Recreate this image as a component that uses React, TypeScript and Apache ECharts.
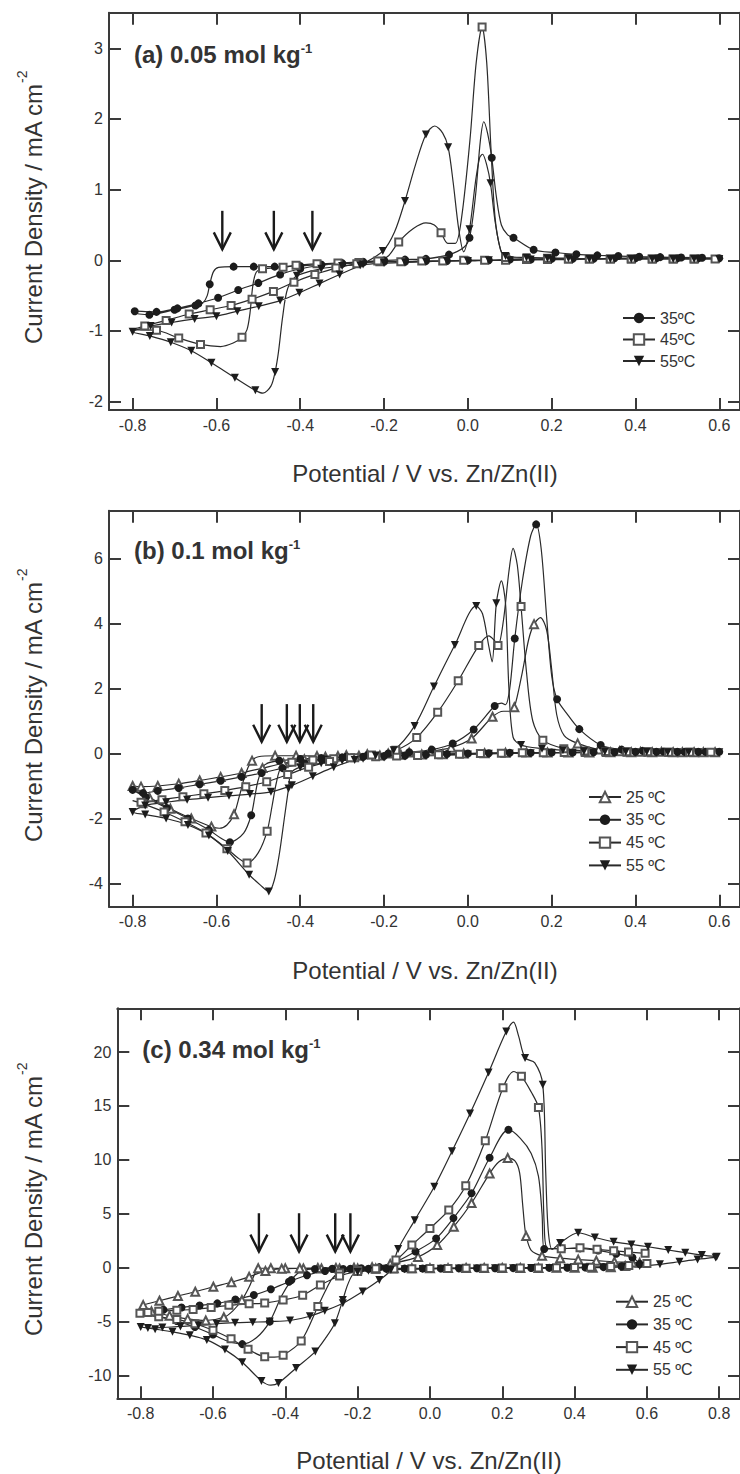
import React, { useEffect, useRef } from 'react';
import * as echarts from 'echarts';

const FONT = '"Liberation Sans", Arial, Helvetica, sans-serif';

// ---------- tick values ----------
const X_TICKS_AB = [-0.8, -0.6, -0.4, -0.2, 0, 0.2, 0.4, 0.6];
const X_TICKS_C = [-0.8, -0.6, -0.4, -0.2, 0, 0.2, 0.4, 0.6, 0.8];
const Y_TICKS_A = [-2, -1, 0, 1, 2, 3];
const Y_TICKS_B = [-4, -2, 0, 2, 4, 6];
const Y_TICKS_C = [-10, -5, 0, 5, 10, 15, 20];

// ---------- texts ----------
const LEGEND_A = ['35ºC', '45ºC', '55ºC'];
const LEGEND_BC = ['25 ºC', '35 ºC', '45 ºC', '55 ºC'];
const PANEL_LABELS = ['(a) 0.05 mol kg', '(b) 0.1 mol kg', '(c) 0.34 mol kg'];
const X_TITLE = 'Potential / V vs. Zn/Zn(II)';
const Y_TITLE = 'Current Density / mA cm';
const Y_TITLE_SUP = '-2';

// ---------- arrows: [potential, top current, tip current] ----------
const ARROWS_A = [[-0.586, 0.7, 0.155], [-0.463, 0.7, 0.155], [-0.371, 0.7, 0.155]];
const ARROWS_B = [[-0.492, 1.52, 0.36], [-0.432, 1.52, 0.36], [-0.401, 1.52, 0.36], [-0.369, 1.52, 0.36]];
const ARROWS_C = [[-0.473, 5.05, 1.49], [-0.362, 5.05, 1.49], [-0.262, 5.05, 1.49], [-0.22, 5.05, 1.49]];

// ---------- CV curves: [E, j] (a third value 0 = point without marker) ----------
const A35 = [
  [0.6, 0.03], [0.55, 0.03], [0.5, 0.03], [0.45, 0.03], [0.4, 0.03], [0.35, 0.03], [0.3, 0.02], [0.25, 0.02],
  [0.2, 0.02], [0.15, 0.01], [0.1, 0.01], [0.05, 0.0], [0.0, 0.0], [-0.05, -0.01], [-0.1, -0.01], [-0.15, -0.02],
  [-0.2, -0.02], [-0.25, -0.03], [-0.3, -0.05], [-0.35, -0.06], [-0.4, -0.08], [-0.461, -0.09], [-0.511, -0.09],
  [-0.559, -0.09], [-0.595, -0.1, 0], [-0.607, -0.16, 0], [-0.616, -0.34], [-0.622, -0.5, 0], [-0.632, -0.6, 0],
  [-0.65, -0.64], [-0.7, -0.7], [-0.76, -0.77], [-0.8, -0.74, 0],
  [-0.795, -0.72], [-0.743, -0.73], [-0.693, -0.68], [-0.643, -0.61], [-0.596, -0.53], [-0.548, -0.42],
  [-0.5, -0.32], [-0.448, -0.2], [-0.4, -0.12], [-0.35, -0.07], [-0.3, -0.04], [-0.25, -0.02], [-0.2, 0.0],
  [-0.15, 0.01], [-0.1, 0.02], [-0.045, 0.08], [-0.01, 0.18, 0], [0.004, 0.32], [0.018, 0.9, 0], [0.03, 1.7, 0],
  [0.038, 1.96, 0], [0.047, 1.8, 0], [0.057, 1.45], [0.068, 0.9, 0], [0.08, 0.5, 0], [0.095, 0.36, 0],
  [0.109, 0.32], [0.157, 0.15], [0.209, 0.11], [0.259, 0.085], [0.309, 0.07], [0.359, 0.06], [0.409, 0.05],
  [0.459, 0.045], [0.509, 0.04], [0.559, 0.035], [0.6, 0.03, 0],
];
const A45 = [
  [0.59, 0.02], [0.54, 0.02], [0.49, 0.02], [0.44, 0.02], [0.39, 0.02], [0.34, 0.02], [0.29, 0.02], [0.24, 0.02],
  [0.19, 0.01], [0.14, 0.01], [0.09, 0.0], [0.04, 0.0], [-0.01, 0.0], [-0.06, -0.01], [-0.11, -0.01], [-0.16, -0.02],
  [-0.21, -0.02], [-0.26, -0.03], [-0.31, -0.04], [-0.36, -0.05], [-0.41, -0.07], [-0.441, -0.1], [-0.49, -0.12],
  [-0.505, -0.17, 0], [-0.513, -0.35, 0], [-0.52, -0.75, 0], [-0.527, -0.98, 0], [-0.539, -1.09], [-0.56, -1.17, 0],
  [-0.59, -1.22, 0], [-0.638, -1.19], [-0.69, -1.1], [-0.743, -0.99], [-0.8, -0.98, 0],
  [-0.771, -0.93], [-0.72, -0.85], [-0.665, -0.76], [-0.615, -0.7], [-0.565, -0.64], [-0.515, -0.55],
  [-0.464, -0.44], [-0.415, -0.31], [-0.365, -0.2], [-0.315, -0.11], [-0.265, -0.05], [-0.215, -0.01],
  [-0.19, 0.06, 0], [-0.165, 0.26], [-0.13, 0.45, 0], [-0.1, 0.53, 0], [-0.08, 0.5, 0], [-0.064, 0.39],
  [-0.048, 0.24, 0], [-0.03, 0.24, 0], [-0.015, 0.6, 0], [0.005, 1.7, 0], [0.02, 2.8, 0], [0.034, 3.3],
  [0.045, 2.8, 0], [0.055, 1.6, 0], [0.065, 0.6, 0], [0.078, 0.15, 0], [0.09, 0.04], [0.14, 0.03], [0.19, 0.03],
  [0.24, 0.02], [0.29, 0.02], [0.34, 0.02], [0.39, 0.02], [0.44, 0.02], [0.49, 0.02], [0.54, 0.02], [0.59, 0.02, 0],
];
const A55 = [
  [0.6, 0.02], [0.55, 0.02], [0.5, 0.02], [0.45, 0.02], [0.4, 0.02], [0.35, 0.02], [0.3, 0.02], [0.25, 0.01],
  [0.2, 0.01], [0.15, 0.01], [0.1, 0.0], [0.05, 0.0], [0.0, -0.01], [-0.05, -0.01], [-0.1, -0.02], [-0.15, -0.03],
  [-0.2, -0.04], [-0.25, -0.06], [-0.3, -0.08], [-0.35, -0.12], [-0.408, -0.22], [-0.43, -0.4, 0], [-0.442, -0.8, 0],
  [-0.452, -1.3, 0], [-0.46, -1.58], [-0.47, -1.78, 0], [-0.489, -1.88, 0], [-0.507, -1.84], [-0.556, -1.66],
  [-0.612, -1.45], [-0.66, -1.28], [-0.709, -1.16], [-0.759, -1.07], [-0.8, -1.01],
  [-0.757, -0.93], [-0.707, -0.88], [-0.652, -0.83], [-0.6, -0.79], [-0.55, -0.72], [-0.499, -0.65],
  [-0.448, -0.57], [-0.402, -0.46], [-0.354, -0.33], [-0.306, -0.2], [-0.257, -0.07], [-0.203, 0.13],
  [-0.175, 0.4, 0], [-0.15, 0.84], [-0.125, 1.35, 0], [-0.1, 1.78], [-0.079, 1.9, 0], [-0.06, 1.8, 0],
  [-0.047, 1.6], [-0.035, 1.1, 0], [-0.022, 0.45, 0], [-0.01, 0.12, 0], [0.004, 0.44], [0.018, 1.1, 0],
  [0.028, 1.45, 0], [0.035, 1.5, 0], [0.045, 1.35, 0], [0.054, 1.09], [0.065, 0.55, 0], [0.078, 0.15, 0],
  [0.09, 0.06], [0.14, 0.04], [0.19, 0.03], [0.24, 0.03], [0.29, 0.02], [0.34, 0.02], [0.39, 0.02], [0.44, 0.02],
  [0.49, 0.02], [0.54, 0.02], [0.6, 0.02, 0],
];

const B25 = [
  [0.59, 0.04], [0.54, 0.04], [0.49, 0.04], [0.44, 0.04], [0.39, 0.04], [0.34, 0.04], [0.29, 0.03], [0.24, 0.03],
  [0.19, 0.03], [0.14, 0.03], [0.09, 0.02], [0.04, 0.01], [-0.01, 0.0], [-0.06, -0.02], [-0.11, -0.03],
  [-0.16, -0.04], [-0.21, -0.06], [-0.26, -0.07], [-0.31, -0.08], [-0.36, -0.08], [-0.41, -0.07], [-0.46, -0.07],
  [-0.5, -0.1, 0], [-0.515, -0.22], [-0.53, -0.6, 0], [-0.545, -1.3, 0], [-0.558, -1.87], [-0.575, -2.2, 0],
  [-0.593, -2.3, 0], [-0.612, -2.25], [-0.66, -2.0], [-0.71, -1.7], [-0.76, -1.35], [-0.8, -1.0],
  [-0.78, -1.02], [-0.74, -1.0], [-0.69, -0.93], [-0.64, -0.83], [-0.59, -0.72], [-0.54, -0.6], [-0.49, -0.45],
  [-0.44, -0.3], [-0.39, -0.18], [-0.34, -0.1], [-0.29, -0.05], [-0.24, -0.02], [-0.19, 0.0], [-0.14, 0.03],
  [-0.09, 0.07], [-0.04, 0.18], [0.009, 0.46], [0.059, 1.13], [0.085, 1.3, 0], [0.1, 1.3, 0], [0.111, 1.42],
  [0.13, 2.5, 0], [0.145, 3.5, 0], [0.158, 3.98], [0.173, 4.18, 0], [0.188, 3.8, 0], [0.2, 2.6, 0],
  [0.212, 1.2, 0], [0.23, 0.55, 0], [0.262, 0.31], [0.312, 0.12], [0.362, 0.07], [0.412, 0.05], [0.462, 0.05],
  [0.512, 0.04], [0.562, 0.04], [0.59, 0.04, 0],
];
const B35 = [
  [0.6, 0.05], [0.55, 0.05], [0.5, 0.05], [0.45, 0.05], [0.4, 0.05], [0.35, 0.04], [0.3, 0.04], [0.25, 0.03],
  [0.2, 0.03], [0.15, 0.02], [0.1, 0.02], [0.05, 0.01], [0.0, 0.0], [-0.05, -0.02], [-0.1, -0.04], [-0.15, -0.06],
  [-0.2, -0.08], [-0.25, -0.1], [-0.3, -0.12], [-0.35, -0.14], [-0.4, -0.17], [-0.45, -0.22], [-0.485, -0.35, 0],
  [-0.5, -0.8, 0], [-0.508, -1.3, 0], [-0.517, -1.9], [-0.535, -2.45, 0], [-0.568, -2.73], [-0.59, -2.6, 0],
  [-0.618, -2.35], [-0.668, -2.0], [-0.718, -1.68], [-0.768, -1.35], [-0.8, -1.12],
  [-0.775, -1.22], [-0.74, -1.15], [-0.69, -1.06], [-0.64, -0.95], [-0.59, -0.84], [-0.54, -0.72],
  [-0.492, -0.6], [-0.442, -0.45], [-0.39, -0.3], [-0.34, -0.18], [-0.29, -0.1], [-0.24, -0.05], [-0.19, 0.0],
  [-0.14, 0.04], [-0.086, 0.12], [-0.036, 0.31], [0.014, 0.74], [0.064, 1.46], [0.08, 1.55, 0], [0.09, 1.5, 0],
  [0.1, 2.0, 0], [0.112, 3.54], [0.13, 5.3, 0], [0.15, 6.7, 0], [0.163, 7.05], [0.175, 6.3, 0], [0.188, 4.2, 0],
  [0.2, 2.4, 0], [0.213, 1.67], [0.235, 1.25, 0], [0.266, 0.75], [0.317, 0.26], [0.367, 0.12], [0.417, 0.08],
  [0.467, 0.06], [0.517, 0.05], [0.567, 0.05], [0.6, 0.05, 0],
];
const B45 = [
  [0.58, 0.04], [0.53, 0.04], [0.48, 0.04], [0.43, 0.04], [0.38, 0.04], [0.33, 0.03], [0.28, 0.03], [0.23, 0.03],
  [0.18, 0.02], [0.13, 0.02], [0.08, 0.01], [0.03, 0.0], [-0.02, -0.02], [-0.07, -0.04], [-0.12, -0.06],
  [-0.17, -0.08], [-0.22, -0.1], [-0.27, -0.13], [-0.32, -0.16], [-0.37, -0.2], [-0.42, -0.27], [-0.445, -0.4, 0],
  [-0.457, -0.9, 0], [-0.467, -1.6, 0], [-0.479, -2.39], [-0.5, -3.05, 0], [-0.527, -3.37], [-0.55, -3.2, 0],
  [-0.575, -2.93], [-0.625, -2.45], [-0.675, -2.1], [-0.725, -1.8], [-0.775, -1.55], [-0.8, -1.45, 0],
  [-0.78, -1.5], [-0.73, -1.42], [-0.68, -1.33], [-0.63, -1.24], [-0.58, -1.14], [-0.53, -1.02], [-0.48, -0.87],
  [-0.43, -0.65], [-0.38, -0.42], [-0.33, -0.25], [-0.28, -0.13], [-0.23, -0.05], [-0.172, 0.1], [-0.122, 0.49],
  [-0.072, 1.27], [-0.023, 2.24], [0.026, 3.32], [0.05, 3.62, 0], [0.062, 3.5, 0], [0.072, 3.32], [0.085, 4.1, 0],
  [0.098, 5.6, 0], [0.108, 6.31, 0], [0.118, 5.8, 0], [0.127, 4.52], [0.14, 2.5, 0], [0.155, 1.0, 0],
  [0.179, 0.41], [0.229, 0.15], [0.279, 0.08], [0.329, 0.06], [0.379, 0.05], [0.429, 0.05], [0.479, 0.04],
  [0.529, 0.04], [0.58, 0.04, 0],
];
const B55 = [
  [0.6, 0.04], [0.55, 0.04], [0.5, 0.04], [0.45, 0.04], [0.4, 0.04], [0.35, 0.03], [0.3, 0.03], [0.25, 0.02],
  [0.2, 0.02], [0.15, 0.01], [0.1, 0.0], [0.05, -0.01], [0.0, -0.03], [-0.05, -0.05], [-0.1, -0.07], [-0.15, -0.09],
  [-0.2, -0.12], [-0.25, -0.16], [-0.3, -0.22], [-0.35, -0.3], [-0.4, -0.42], [-0.422, -0.6, 0], [-0.428, -1.08],
  [-0.438, -2.0, 0], [-0.45, -3.1, 0], [-0.462, -3.9, 0], [-0.475, -4.25], [-0.495, -4.05, 0], [-0.522, -3.73],
  [-0.573, -3.0], [-0.618, -2.52], [-0.668, -2.2], [-0.72, -2.0], [-0.77, -1.88], [-0.8, -1.8],
  [-0.77, -1.6], [-0.72, -1.5], [-0.67, -1.42], [-0.62, -1.36], [-0.57, -1.3], [-0.52, -1.25], [-0.47, -1.18],
  [-0.42, -0.98], [-0.37, -0.7], [-0.32, -0.42], [-0.27, -0.2], [-0.22, -0.06], [-0.177, 0.1], [-0.127, 0.85],
  [-0.081, 2.06], [-0.031, 3.34], [0.02, 4.54], [0.035, 4.3, 0], [0.05, 3.3, 0], [0.058, 2.82, 0], [0.068, 4.62],
  [0.08, 5.31, 0], [0.09, 4.6, 0], [0.098, 2.0, 0], [0.108, 0.5, 0], [0.127, 0.26], [0.177, 0.15], [0.227, 0.1],
  [0.277, 0.07], [0.327, 0.06], [0.377, 0.05], [0.427, 0.05], [0.477, 0.04], [0.527, 0.04], [0.6, 0.04, 0],
];

const C25 = [
  [0.58, 0.45], [0.54, 0.15], [0.5, 0.05], [0.45, 0.0], [0.4, 0.0], [0.35, 0.0], [0.3, -0.02], [0.25, -0.02],
  [0.2, -0.03], [0.15, -0.03], [0.1, -0.03], [0.05, -0.04], [0.0, -0.05], [-0.05, -0.05], [-0.1, -0.06],
  [-0.15, -0.07], [-0.2, -0.08], [-0.25, -0.08], [-0.3, -0.08], [-0.35, -0.07], [-0.4, -0.06], [-0.44, -0.05],
  [-0.475, -0.05], [-0.485, -0.6, 0], [-0.5, -1.8, 0], [-0.52, -3.0], [-0.545, -4.0, 0], [-0.57, -4.6],
  [-0.62, -4.9], [-0.67, -4.75], [-0.72, -4.45], [-0.77, -4.05], [-0.8, -3.8, 0],
  [-0.793, -3.47], [-0.748, -3.07], [-0.697, -2.63], [-0.649, -2.23], [-0.599, -1.77], [-0.549, -1.35],
  [-0.5, -0.85], [-0.455, -0.3], [-0.41, -0.1], [-0.36, -0.05], [-0.31, -0.03], [-0.26, -0.02], [-0.21, 0.0],
  [-0.16, 0.05], [-0.11, 0.35], [-0.033, 1.0], [0.02, 2.1], [0.066, 3.8], [0.115, 6.0], [0.165, 8.73],
  [0.19, 9.8, 0], [0.215, 10.17], [0.235, 9.9, 0], [0.248, 8.8, 0], [0.256, 6.0, 0], [0.262, 3.8, 0],
  [0.266, 2.93], [0.28, 1.6, 0], [0.31, 1.1], [0.36, 0.88], [0.41, 0.75], [0.46, 0.65], [0.51, 0.55],
  [0.56, 0.48], [0.58, 0.45, 0],
];
const C35 = [
  [0.58, 0.35], [0.53, 0.12], [0.48, 0.05], [0.43, 0.02], [0.38, 0.0], [0.33, -0.02], [0.28, -0.03],
  [0.23, -0.04], [0.18, -0.05], [0.13, -0.05], [0.08, -0.06], [0.03, -0.07], [-0.02, -0.08], [-0.07, -0.09],
  [-0.12, -0.1], [-0.17, -0.1], [-0.22, -0.1], [-0.27, -0.1], [-0.318, -0.12], [-0.35, -0.2, 0], [-0.365, -0.5, 0],
  [-0.383, -1.15], [-0.41, -2.6, 0], [-0.443, -5.0], [-0.48, -6.5, 0], [-0.519, -7.09], [-0.56, -6.8, 0],
  [-0.6, -6.2], [-0.65, -5.5], [-0.7, -4.95], [-0.75, -4.55], [-0.8, -4.2],
  [-0.78, -4.1], [-0.737, -3.9], [-0.687, -3.69], [-0.637, -3.5], [-0.588, -3.31], [-0.538, -2.95],
  [-0.487, -2.54], [-0.44, -2.0], [-0.39, -1.3], [-0.34, -0.7], [-0.29, -0.3], [-0.24, -0.12], [-0.19, -0.05],
  [-0.14, 0.05], [-0.094, 0.55], [-0.04, 1.5], [0.017, 2.7], [0.065, 4.6], [0.115, 6.9], [0.165, 10.2],
  [0.217, 12.8], [0.25, 12.0, 0], [0.28, 10.6, 0], [0.3, 8.5, 0], [0.31, 5.0, 0], [0.316, 1.73], [0.365, 1.78],
  [0.415, 1.79], [0.465, 1.6], [0.515, 1.3], [0.56, 0.95], [0.58, 0.35, 0],
];
const C45 = [
  [0.6, 0.4], [0.55, 0.2], [0.5, 0.1], [0.444, 0.05], [0.4, 0.02], [0.35, 0.0], [0.3, -0.02], [0.25, -0.03],
  [0.2, -0.04], [0.15, -0.05], [0.1, -0.06], [0.05, -0.07], [0.0, -0.08], [-0.05, -0.1], [-0.1, -0.12],
  [-0.15, -0.15], [-0.2, -0.25], [-0.25, -0.5], [-0.27, -1.0, 0], [-0.29, -2.2, 0], [-0.31, -3.6], [-0.356, -6.8],
  [-0.406, -8.12], [-0.43, -8.3, 0], [-0.457, -8.27], [-0.503, -7.56], [-0.55, -6.6], [-0.6, -5.8], [-0.65, -5.2],
  [-0.7, -4.8], [-0.75, -4.55], [-0.802, -4.23],
  [-0.78, -4.15], [-0.75, -4.05], [-0.7, -3.95], [-0.655, -3.88], [-0.605, -3.7], [-0.556, -3.49], [-0.5, -3.35],
  [-0.457, -3.28], [-0.406, -3.0], [-0.352, -2.56], [-0.303, -1.61], [-0.25, -0.77], [-0.2, -0.35], [-0.15, -0.1],
  [-0.094, 0.71], [-0.05, 2.1], [0.0, 3.64], [0.052, 5.34], [0.099, 7.6], [0.153, 11.78], [0.202, 16.7],
  [0.232, 18.2, 0], [0.253, 17.75], [0.28, 16.3, 0], [0.3, 14.87], [0.31, 11.0, 0], [0.316, 4.0, 0],
  [0.325, 1.8, 0], [0.363, 1.76], [0.415, 1.85], [0.462, 1.7], [0.508, 1.57], [0.549, 1.45], [0.595, 1.33],
];
const C55 = [
  [0.79, 0.95], [0.74, 0.77], [0.69, 0.55], [0.636, 0.31], [0.58, 0.15], [0.531, 0.09], [0.48, 0.05], [0.43, 0.02],
  [0.38, 0.0], [0.33, -0.02], [0.28, -0.04], [0.23, -0.05], [0.18, -0.06], [0.13, -0.07], [0.08, -0.08],
  [0.03, -0.1], [-0.02, -0.12], [-0.07, -0.15], [-0.12, -0.2], [-0.17, -0.28], [-0.2, -0.4], [-0.215, -0.7, 0],
  [-0.23, -1.8, 0], [-0.241, -3.0], [-0.263, -5.15], [-0.29, -6.6, 0], [-0.317, -7.78], [-0.37, -9.3],
  [-0.419, -10.7], [-0.44, -10.9, 0], [-0.466, -10.5], [-0.519, -8.77], [-0.567, -7.6], [-0.617, -6.7],
  [-0.664, -6.26], [-0.712, -5.95], [-0.76, -5.7], [-0.8, -5.5],
  [-0.78, -5.6], [-0.74, -5.55], [-0.69, -5.45], [-0.64, -5.35], [-0.59, -5.2], [-0.539, -5.1], [-0.49, -5.05],
  [-0.443, -5.0], [-0.387, -4.9], [-0.332, -4.5], [-0.291, -4.0], [-0.241, -3.3], [-0.186, -2.2], [-0.14, -1.15],
  [-0.108, -0.2], [-0.088, 1.73], [-0.042, 4.41], [0.012, 7.5], [0.061, 10.8], [0.111, 14.3], [0.162, 18.1],
  [0.211, 21.9], [0.231, 22.77, 0], [0.245, 21.5, 0], [0.263, 19.46], [0.29, 19.0, 0], [0.312, 16.98],
  [0.32, 9.0, 0], [0.327, 3.5, 0], [0.338, 1.7, 0], [0.36, 2.3], [0.41, 3.24], [0.456, 2.8], [0.508, 2.4],
  [0.557, 2.16], [0.603, 1.94], [0.659, 1.64], [0.706, 1.39], [0.752, 1.17], [0.793, 1.02],
];

// ---------- layout (pixels) ----------
const PANELS = [
  { left: 109, top: 12.7, width: 632.5, height: 397.3, xmin: -0.8564, xmax: 0.6495, ymin: -2.118, ymax: 3.503,
    xticks: X_TICKS_AB, yticks: Y_TICKS_A, labelY: 54, titleY: 473, titleX: 425, yTitleEnd: 84 },
  { left: 109, top: 510.7, width: 632.5, height: 396, xmin: -0.8564, xmax: 0.6495, ymin: -4.714, ymax: 7.471,
    xticks: X_TICKS_AB, yticks: Y_TICKS_B, labelY: 550, titleY: 970, titleX: 425, yTitleEnd: 582 },
  { left: 117.3, top: 1008.3, width: 624.2, height: 390, xmin: -0.8646, xmax: 0.8574, ymin: -12.115, ymax: 24.06,
    xticks: X_TICKS_C, yticks: Y_TICKS_C, labelY: 1049, titleY: 1460, titleX: 429, yTitleEnd: 1076 },
];

const STYLES: Record<string, any> = {
  '25': { symbol: 'emptyTriangle', rotate: 0, size: 8, color: '#555', border: 1.1 },
  '35': { symbol: 'circle', rotate: 0, size: 8, color: '#1c1c1c', border: 0 },
  '45': { symbol: 'emptyRect', rotate: 0, size: 7, color: '#555', border: 1.1 },
  '55': { symbol: 'triangle', rotate: 180, size: 8, color: '#1c1c1c', border: 0 },
};

const AXIS_COLOR = '#3a3a3a';
const TEXT_COLOR = '#333';

function toData(pts: number[][]) {
  return pts.map((p) =>
    p.length > 2 && p[2] === 0 ? { value: [p[0], p[1]], symbol: 'none' } : { value: [p[0], p[1]] }
  );
}

function curve(name: string, key: string, pts: number[][], panel: number) {
  const s = STYLES[key];
  return {
    type: 'line',
    name,
    xAxisIndex: panel * 2,
    yAxisIndex: panel * 2,
    data: toData(pts),
    smooth: 0.3,
    symbol: s.symbol,
    symbolSize: s.size,
    symbolRotate: s.rotate,
    showSymbol: true,
    showAllSymbol: true,
    silent: true,
    lineStyle: { color: '#2a2a2a', width: 1.2 },
    itemStyle: { color: s.color, borderWidth: s.border, borderColor: s.color },
    emphasis: { disabled: true },
    z: 3,
  };
}

function arrows(data: number[][], panel: number) {
  return {
    type: 'custom',
    xAxisIndex: panel * 2,
    yAxisIndex: panel * 2,
    data,
    encode: { x: 0, y: [1, 2] },
    silent: true,
    z: 4,
    renderItem: (_params: any, api: any) => {
      const top = api.coord([api.value(0), api.value(1)]);
      const tip = api.coord([api.value(0), api.value(2)]);
      return {
        type: 'group',
        children: [
          { type: 'line', shape: { x1: top[0], y1: top[1], x2: tip[0], y2: tip[1] },
            style: { stroke: '#1a1a1a', lineWidth: 2.4 } },
          { type: 'polyline', shape: { points: [[tip[0] - 8.5, tip[1] - 17], [tip[0], tip[1]], [tip[0] + 8.5, tip[1] - 17]] },
            style: { stroke: '#1a1a1a', lineWidth: 2.4, fill: null } },
        ],
      };
    },
  };
}

function axisPair(panel: number, horizontal: boolean) {
  const P = PANELS[panel];
  const min = horizontal ? P.xmin : P.ymin;
  const max = horizontal ? P.xmax : P.ymax;
  const ticks = horizontal ? P.xticks : P.yticks;
  const base = {
    type: 'value',
    gridIndex: panel,
    min,
    max,
    splitLine: { show: false },
    axisLine: { show: true, onZero: false, lineStyle: { color: AXIS_COLOR, width: 2 } },
    axisTick: { show: true, inside: true, length: 12, lineStyle: { color: AXIS_COLOR, width: 2 }, customValues: ticks },
  };
  const main = {
    ...base,
    position: horizontal ? 'bottom' : 'left',
    axisLabel: {
      show: true,
      customValues: ticks,
      margin: horizontal ? 7 : 6,
      fontSize: 16,
      color: TEXT_COLOR,
      fontFamily: FONT,
      formatter: (v: number) => (horizontal ? v.toFixed(1) : String(Math.round(v))),
    },
  };
  const second = {
    ...base,
    position: horizontal ? 'top' : 'right',
    axisLabel: { show: false },
  };
  return [main, second];
}

function legend(names: string[], left: number, top: number, gap: number) {
  return {
    data: names,
    orient: 'vertical',
    left,
    top,
    padding: 0,
    itemWidth: 32,
    itemHeight: 13,
    itemGap: gap,
    selectedMode: false,
    textStyle: { fontSize: 16, color: TEXT_COLOR, fontFamily: FONT },
  };
}

function buildOption() {
  const xAxis: any[] = [];
  const yAxis: any[] = [];
  for (let i = 0; i < 3; i++) {
    xAxis.push(...axisPair(i, true));
    yAxis.push(...axisPair(i, false));
  }
  const grid = PANELS.map((p) => ({ left: p.left, top: p.top, width: p.width, height: p.height }));

  const series: any[] = [
    curve(LEGEND_A[0], '35', A35, 0),
    curve(LEGEND_A[1], '45', A45, 0),
    curve(LEGEND_A[2], '55', A55, 0),
    arrows(ARROWS_A, 0),
    curve(LEGEND_BC[0], '25', B25, 1),
    curve(LEGEND_BC[1], '35', B35, 1),
    curve(LEGEND_BC[2], '45', B45, 1),
    curve(LEGEND_BC[3], '55', B55, 1),
    arrows(ARROWS_B, 1),
    curve(LEGEND_BC[0], '25', C25, 2),
    curve(LEGEND_BC[1], '35', C35, 2),
    curve(LEGEND_BC[2], '45', C45, 2),
    curve(LEGEND_BC[3], '55', C55, 2),
    arrows(ARROWS_C, 2),
  ];

  const graphic: any[] = [];
  PANELS.forEach((p, i) => {
    graphic.push({
      type: 'text',
      x: p.left + 25,
      y: p.labelY,
      silent: true,
      style: {
        text: `{m|${PANEL_LABELS[i]}}{s|-1}`,
        align: 'left',
        verticalAlign: 'middle',
        textAlign: 'left',
        textVerticalAlign: 'middle',
        rich: {
          m: { fontSize: 24, fontWeight: 'bold', lineHeight: 24, fontFamily: FONT, fill: TEXT_COLOR },
          s: { fontSize: 13, fontWeight: 'bold', lineHeight: 12, verticalAlign: 'top', fontFamily: FONT, fill: TEXT_COLOR },
        },
      },
    });
    graphic.push({
      type: 'text',
      x: p.titleX,
      y: p.titleY,
      silent: true,
      style: {
        text: X_TITLE,
        fontSize: 24,
        fontFamily: FONT,
        fill: TEXT_COLOR,
        align: 'center',
        verticalAlign: 'middle',
        textAlign: 'center',
        textVerticalAlign: 'middle',
      },
    });
    // rotated y title: main text ends at yTitleEnd, superscript continues above it
    graphic.push({
      type: 'text',
      x: 33,
      y: p.yTitleEnd,
      rotation: Math.PI / 2,
      silent: true,
      style: {
        text: Y_TITLE,
        fontSize: 24,
        fontFamily: FONT,
        fill: TEXT_COLOR,
        align: 'right',
        verticalAlign: 'middle',
        textAlign: 'right',
        textVerticalAlign: 'middle',
      },
    });
    graphic.push({
      type: 'text',
      x: 22,
      y: p.yTitleEnd - 1,
      rotation: Math.PI / 2,
      silent: true,
      style: {
        text: Y_TITLE_SUP,
        fontSize: 14,
        fontFamily: FONT,
        fill: TEXT_COLOR,
        align: 'left',
        verticalAlign: 'middle',
        textAlign: 'left',
        textVerticalAlign: 'middle',
      },
    });
  });

  return {
    animation: false,
    backgroundColor: '#fff',
    grid,
    xAxis,
    yAxis,
    legend: [
      legend(LEGEND_A, 622, 310, 5.5),
      legend(LEGEND_BC, 588, 789, 6.8),
      legend(LEGEND_BC, 615, 1293.7, 6.7),
    ],
    series,
    graphic,
  };
}

export default function App() {
  const ref = useRef<HTMLDivElement | null>(null);
  useEffect(() => {
    document.body.style.margin = '0';
    if (!ref.current) return;
    const chart = echarts.init(ref.current, undefined, { renderer: 'svg' });
    chart.setOption(buildOption() as any);
    return () => {
      chart.dispose();
    };
  }, []);
  return <div ref={ref} style={{ width: 740, height: 1474 }} />;
}
